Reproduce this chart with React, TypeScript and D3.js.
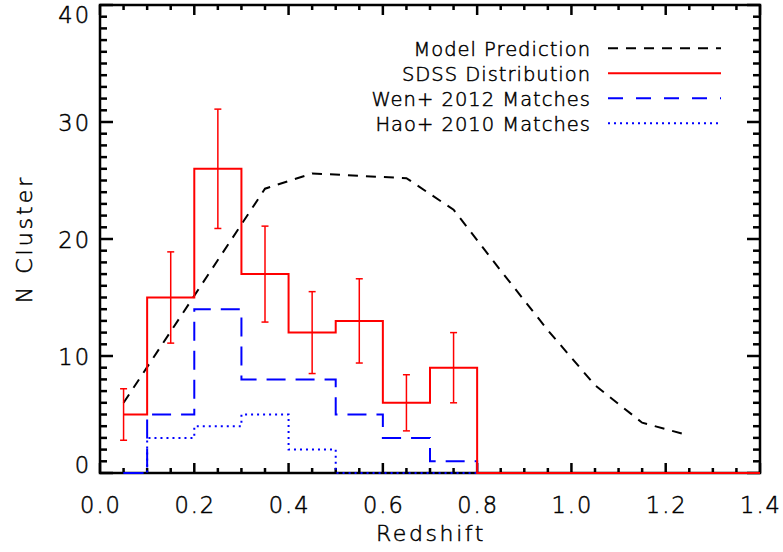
import React from 'react';
import * as d3 from 'd3';

const binCenters = [0.05, 0.15, 0.25, 0.35, 0.45, 0.55, 0.65, 0.75, 0.85, 0.95, 1.05, 1.15, 1.25, 1.35];
const sdssCounts = [5, 15, 26, 17, 12, 13, 6, 9, 0, 0, 0, 0, 0, 0];
const sdssErrors = [2.2, 3.9, 5.1, 4.1, 3.5, 3.6, 2.4, 3.0];
const wenCounts = [0, 5, 14, 8, 8, 5, 3, 1, 0, 0, 0, 0, 0, 0];
const haoCounts = [0, 3, 4, 5, 2, 0, 0, 0, 0, 0, 0, 0, 0, 0];
const modelZ = [0.05, 0.15, 0.25, 0.35, 0.45, 0.55, 0.65, 0.75, 0.85, 0.95, 1.05, 1.15, 1.25];
const modelN = [6.0, 12.1, 18.2, 24.3, 25.6, 25.4, 25.2, 22.5, 17.3, 12.2, 7.5, 4.3, 3.2];
const xTicks = [0.0, 0.2, 0.4, 0.6, 0.8, 1.0, 1.2, 1.4];
const yTicks = [0, 10, 20, 30, 40];
const legendLabels = ['Model Prediction', 'SDSS Distribution', 'Wen+ 2012 Matches', 'Hao+ 2010 Matches'];

const W = 783, H = 552;
const L = 100, R = 760, T = 5, B = 473;
const FONT = 'DejaVu Sans, sans-serif';
const WEIGHT = 200;
const TXT_STROKE = 0.5;

export default function App() {
  const x = d3.scaleLinear().domain([0, 1.4]).range([L, R]);
  const y = d3.scaleLinear().domain([0, 40]).range([B, T]);

  const step = d3.line<[number, number]>().x(d => x(d[0])).y(d => y(d[1])).curve(d3.curveStep);
  const lin = d3.line<[number, number]>().x(d => x(d[0])).y(d => y(d[1]));

  const stepPts = (vals: number[]): [number, number][] => {
    const pts: [number, number][] = binCenters.map((c, i) => [c, vals[i]]);
    pts.push([1.4, vals[vals.length - 1]]);
    return pts;
  };

  const xMinor = d3.range(0, 29).map(i => i * 0.05);
  const yMinor = d3.range(0, 41);

  const blue = '#0000ff';
  const red = '#ff0000';

  const legendStyles = [
    { stroke: '#000', dash: '10 8', w: 2 },
    { stroke: red, dash: undefined, w: 2 },
    { stroke: blue, dash: '15 13', w: 2 },
    { stroke: blue, dash: '2 4', w: 2 },
  ];

  const txt = { fontFamily: FONT, fontWeight: WEIGHT, fill: '#000', stroke: '#000', strokeWidth: TXT_STROKE };

  return (
    <svg width={W} height={H} style={{ position: 'absolute', left: 0, top: 0, background: '#fff' }}>
      <rect x={0} y={0} width={W} height={H} fill="#fff" />
      {/* ticks */}
      <g stroke="#000" strokeWidth={2.5}>
        {xMinor.map((v, i) => {
          const major = i % 4 === 0;
          const len = major ? 10 : 5;
          const px = x(v);
          return (
            <g key={'xt' + i}>
              <line x1={px} x2={px} y1={B} y2={B - len} />
              <line x1={px} x2={px} y1={T} y2={T + len} />
            </g>
          );
        })}
        {yMinor.map((v, i) => {
          const major = i % 10 === 0;
          const len = major ? 13 : 7;
          const py = y(v);
          return (
            <g key={'yt' + i}>
              <line x1={L} x2={L + len} y1={py} y2={py} />
              <line x1={R} x2={R - len} y1={py} y2={py} />
            </g>
          );
        })}
      </g>
      <rect x={L} y={T} width={R - L} height={B - T} fill="none" stroke="#000" strokeWidth={2.5} />

      {/* tick labels */}
      <g {...txt} fontSize={22.5} letterSpacing={2}>
        {xTicks.map(t => (
          <text key={'xl' + t} x={x(t) + 1} y={513} textAnchor="middle">{t.toFixed(1)}</text>
        ))}
        {yTicks.map(t => {
          const base = Math.min(B, Math.max(y(t) + 8.5, T + 18));
          return (
            <text key={'yl' + t} x={91} y={base} textAnchor="end">{String(t)}</text>
          );
        })}
      </g>

      {/* axis titles */}
      <text {...txt} x={(L + R) / 2 + 1} y={541} textAnchor="middle" fontSize={22} letterSpacing={2.6}>Redshift</text>
      <text {...txt} transform={`translate(32, ${(T + B) / 2}) rotate(-90)`} textAnchor="middle" fontSize={22} letterSpacing={3}>N Cluster</text>

      {/* model */}
      <path d={lin(modelZ.map((z, i) => [z, modelN[i]] as [number, number])) || ''} fill="none" stroke="#000" strokeWidth={2} strokeDasharray="10 8" />
      {/* Hao */}
      <path d={step(stepPts(haoCounts)) || ''} fill="none" stroke={blue} strokeWidth={2} strokeDasharray="2 4" />
      {/* Wen */}
      <path d={step(stepPts(wenCounts)) || ''} fill="none" stroke={blue} strokeWidth={2} strokeDasharray="19 10" />
      {/* SDSS */}
      <path d={step(stepPts(sdssCounts)) || ''} fill="none" stroke={red} strokeWidth={2} />
      {/* error bars */}
      <g stroke={red} strokeWidth={1.5}>
        {sdssErrors.map((e, i) => {
          const px = x(binCenters[i]);
          const y1 = y(sdssCounts[i] + e);
          const y2 = y(sdssCounts[i] - e);
          return (
            <g key={'eb' + i}>
              <line x1={px} x2={px} y1={y1} y2={y2} />
              <line x1={px - 3.5} x2={px + 3.5} y1={y1} y2={y1} />
              <line x1={px - 3.5} x2={px + 3.5} y1={y2} y2={y2} />
            </g>
          );
        })}
      </g>

      {/* legend */}
      <g>
        {legendLabels.map((lab, i) => {
          const ly = 48.3 + i * 25;
          const s = legendStyles[i];
          return (
            <g key={'lg' + i}>
              <text {...txt} fontSize={19.5} letterSpacing={1} x={591} y={ly + 7.5} textAnchor="end">{lab}</text>
              <line x1={608} x2={721} y1={ly} y2={ly} stroke={s.stroke} strokeWidth={s.w} strokeDasharray={s.dash} />
            </g>
          );
        })}
      </g>
    </svg>
  );
}
